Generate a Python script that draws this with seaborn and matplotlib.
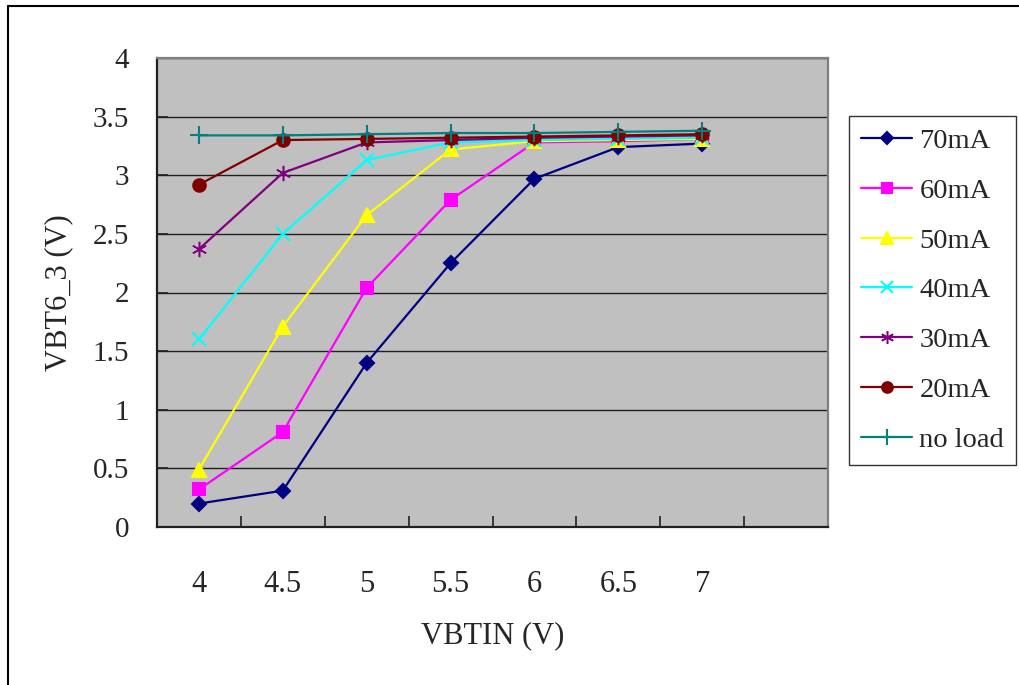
import matplotlib
matplotlib.use("Agg")
import matplotlib.pyplot as plt
import seaborn as sns
import pandas as pd
from matplotlib.lines import Line2D

vbtin = [4, 4.5, 5, 5.5, 6, 6.5, 7]
tick_labels = ["4", "4.5", "5", "5.5", "6", "6.5", "7"]
series_names = ["70mA", "60mA", "50mA", "40mA", "30mA", "20mA", "no load"]
v_70mA = [0.20, 0.31, 1.40, 2.25, 2.97, 3.24, 3.27]
v_60mA = [0.32, 0.81, 2.04, 2.79, 3.28, 3.29, 3.31]
v_50mA = [0.49, 1.71, 2.66, 3.22, 3.29, 3.30, 3.31]
v_40mA = [1.60, 2.50, 3.13, 3.28, 3.30, 3.31, 3.32]
v_30mA = [2.37, 3.02, 3.28, 3.30, 3.32, 3.33, 3.34]
v_20mA = [2.92, 3.30, 3.31, 3.32, 3.33, 3.34, 3.35]
v_noload = [3.34, 3.34, 3.35, 3.36, 3.36, 3.37, 3.38]

all_values = [v_70mA, v_60mA, v_50mA, v_40mA, v_30mA, v_20mA, v_noload]
colors = ["#000080", "#FF00FF", "#FFFF00", "#00FFFF", "#800080", "#800000", "#008080"]
markers = ["D", "s", "^", "x", (6, 2, 0), "o", "+"]
msizes = [7.5, 8.5, 9.5, 10, 11, 9, 13]
mews = [1.5, 1.5, 1.5, 1.5, 1.1, 1.5, 1.5]

sns.set_theme(style="white")
plt.rcParams["font.family"] = ["Liberation Serif", "DejaVu Serif"]

fig = plt.figure(figsize=(10.2, 6.85), dpi=100)
ax = fig.add_axes([157 / 1020, 1 - 527 / 685, 671 / 1020, 469 / 685])
ax.set_facecolor("#C0C0C0")

for name, vals, c, m, ms, mw in zip(series_names, all_values, colors, markers, msizes, mews):
    d = pd.DataFrame({"VBTIN": vbtin, "VBT": vals})
    sns.lineplot(data=d, x="VBTIN", y="VBT", color=c, marker=m, markersize=ms,
                 markerfacecolor=c, markeredgecolor=c, markeredgewidth=mw,
                 linewidth=1.6, ax=ax, label=name, legend=False)

ax.set_xlim(3.75, 7.75)
ax.set_ylim(0, 4)
ax.set_yticks([i * 0.5 for i in range(9)])
ax.set_yticklabels(["0", "0.5", "1", "1.5", "2", "2.5", "3", "3.5", "4"])
ax.yaxis.grid(True, color="#202020", linewidth=1.0)
ax.xaxis.grid(False)
ax.set_axisbelow(True)

ax.set_xticks(vbtin)
ax.set_xticklabels(tick_labels)
ax.set_xticks([4.25 + 0.5 * i for i in range(8)], minor=True)
ax.tick_params(axis="x", which="major", length=0, pad=31, labelsize=22)
ax.tick_params(axis="x", which="minor", direction="in", length=8, width=1.2, color="#202020", bottom=True)
ax.tick_params(axis="y", which="major", direction="in", length=8, width=1.2, color="#202020", pad=20, labelsize=21, left=True)

for s in ["left", "bottom"]:
    ax.spines[s].set_color("#202020")
    ax.spines[s].set_linewidth(1.6)
for s in ["top", "right"]:
    ax.spines[s].set_color("#808080")
    ax.spines[s].set_linewidth(1.6)

ax.set_xlabel("VBTIN (V)", fontsize=22, labelpad=16)
ax.set_ylabel("VBT6_3 (V)", fontsize=22, labelpad=14)

handles = [Line2D([], [], color=c, marker=m, markersize=ms * 0.85, markerfacecolor=c,
                  markeredgecolor=c, markeredgewidth=mw, linewidth=1.6)
           for c, m, ms, mw in zip(colors, markers, msizes, mews)]
leg = fig.legend(handles, series_names, loc="upper left",
                 bbox_to_anchor=(849 / 1020, 1 - 116 / 685), bbox_transform=fig.transFigure,
                 fontsize=20.5, frameon=True, fancybox=False, shadow=False,
                 handlelength=1.8, handletextpad=0.25, labelspacing=0.84,
                 borderpad=0.42, borderaxespad=0)
leg.get_frame().set_edgecolor("black")
leg.get_frame().set_linewidth(1.0)
leg.get_frame().set_facecolor("white")

fig.add_artist(Line2D([8 / 1020, 8 / 1020], [0, 1 - 6 / 685], transform=fig.transFigure,
                      color="black", linewidth=1.5))
fig.add_artist(Line2D([8 / 1020, 1], [1 - 6 / 685, 1 - 6 / 685], transform=fig.transFigure,
                      color="black", linewidth=1.5))

fig.savefig("out.png", dpi=100, facecolor="white")
